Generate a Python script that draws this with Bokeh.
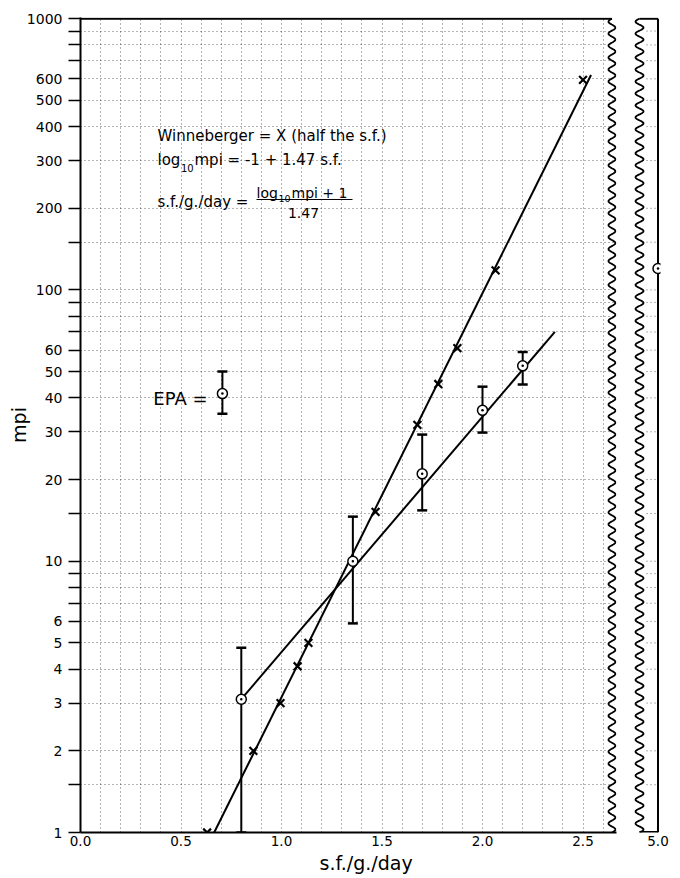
import numpy as np
from bokeh.plotting import figure
from bokeh.models import FixedTicker, Label, Title
from bokeh.layouts import row
from bokeh.embed import file_html
from bokeh.resources import INLINE

# ---------------- data ----------------
win_sf = [0.63, 0.86, 0.995, 1.08, 1.134, 1.468, 1.676, 1.78, 1.875, 2.065, 2.50]
win_mpi = [1.0, 2.0, 3.0, 4.1, 5.0, 15.2, 31.8, 45.0, 61.0, 118.0, 595.0]
win_fit_sf = [0.665, 2.54]
win_fit_mpi = [1.0, 620.0]

epa_sf = [0.80, 1.355, 1.70, 2.00, 2.20]
epa_mpi = [3.1, 10.0, 21.0, 36.0, 52.5]
epa_lo = [1.0, 5.9, 15.4, 29.8, 44.8]
epa_hi = [4.8, 14.6, 29.3, 44.0, 59.0]
epa_fit_sf = [0.80, 2.36]
epa_fit_mpi = [3.1, 70.0]

epa_ref_sf = [0.706]
epa_ref_mpi = [41.5]
epa_ref_lo = [35.0]
epa_ref_hi = [50.0]

strip_sf = [5.0]
strip_mpi = [120.0]

x_tick_vals = [0.0, 0.5, 1.0, 1.5, 2.0, 2.5]
x_tick_labels = ["0.0", "0.5", "1.0", "1.5", "2.0", "2.5"]
x_grid_vals = [0.1, 0.2, 0.3, 0.4, 0.5, 0.6, 0.7, 0.8, 0.9, 1.0, 1.1, 1.2, 1.3,
               1.4, 1.5, 1.6, 1.7, 1.8, 1.9, 2.0, 2.1, 2.2, 2.3, 2.4, 2.5, 2.6]
y_tick_vals = [1, 1.5, 2, 3, 4, 5, 6, 7, 8, 9, 10, 15, 20, 30, 40, 50, 60, 70, 80, 90,
               100, 150, 200, 300, 400, 500, 600, 700, 800, 900, 1000]
y_tick_labels = ["1", "", "2", "3", "4", "5", "6", "", "", "", "10", "", "20", "30", "40",
                 "50", "60", "", "", "", "100", "", "200", "300", "400", "500", "600",
                 "", "", "", "1000"]
strip_tick_vals = [5.0]
strip_tick_labels = ["5.0"]

# ---------------- helpers for annotation placement ----------------
PX0, PXU = 80.0, 201.0      # page x of s.f.=0, pixels per unit
PY0, PYD = 832.0, 271.27    # page y of mpi=1, pixels per decade


def dx(page_x):
    return (page_x - PX0) / PXU


def dy(page_y):
    return 10 ** ((PY0 - page_y) / PYD)


FONT = "DejaVu Sans"
GRID_DASH = "1 3"
H = 876
TOP = 17
BOTTOM = H - 832

# ---------------- main figure ----------------
x_end = dx(616)
p = figure(width=626, height=H, x_range=(0, x_end), y_range=(1, 1010),
           y_axis_type="log", output_backend="svg", toolbar_location=None,
           min_border_left=80, min_border_right=10, min_border_top=TOP,
           min_border_bottom=BOTTOM)
p.outline_line_color = None
p.background_fill_color = "white"
p.border_fill_color = "white"

p.xaxis.ticker = FixedTicker(ticks=x_tick_vals)
p.xaxis.major_label_overrides = dict(zip(x_tick_vals, x_tick_labels))
p.xaxis.major_tick_line_color = None
p.xaxis.minor_tick_line_color = None
p.xaxis.major_tick_out = 0
p.xaxis.major_label_standoff = 3
p.xaxis.axis_line_width = 2
p.xaxis.major_label_text_font = FONT
p.xaxis.major_label_text_font_size = "13.5px"
p.xaxis.major_label_text_color = "black"

p.yaxis.ticker = FixedTicker(ticks=y_tick_vals)
p.yaxis.major_label_overrides = dict(zip(y_tick_vals, y_tick_labels))
p.yaxis.minor_tick_line_color = None
p.yaxis.major_tick_out = 12
p.yaxis.major_tick_in = 0
p.yaxis.major_tick_line_width = 1.5
p.yaxis.major_label_standoff = 6
p.yaxis.axis_line_width = 2
p.yaxis.major_label_text_font = FONT
p.yaxis.major_label_text_font_size = "14px"
p.yaxis.major_label_text_color = "black"
p.yaxis.axis_label = "mpi"
p.yaxis.axis_label_text_font = FONT
p.yaxis.axis_label_text_font_size = "19px"
p.yaxis.axis_label_text_font_style = "normal"
p.yaxis.axis_label_text_color = "black"
p.yaxis.axis_label_standoff = -6

p.add_layout(Title(text="s.f./g./day", align="left", offset=239, standoff=2,
                   text_font=FONT, text_font_size="19px", text_font_style="normal",
                   text_color="black"), "below")

p.xgrid.ticker = FixedTicker(ticks=x_grid_vals)
p.ygrid.ticker = FixedTicker(ticks=y_tick_vals)
for g in (p.xgrid, p.ygrid):
    g.grid_line_color = "black"
    g.grid_line_alpha = 0.6
    g.grid_line_dash = GRID_DASH
    g.grid_line_width = 1

# wavy break edge of main panel
n_waves = 68
t = np.linspace(0, 3, 1400)
wy = 10 ** t
wx = 2.644 + 0.0174 * np.sin(2 * np.pi * t * n_waves / 3)
p.patch(x=[wx[0]] + list(wx) + [wx[-1], x_end + 0.1, x_end + 0.1],
        y=[0.9] + list(wy) + [1100, 1100, 0.9],
        fill_color="white", line_color=None)
p.line(wx, wy, line_color="black", line_width=1.8)
p.line([0, wx[-1]], [1000, 1000], line_color="black", line_width=2)

# fitted lines
p.line(win_fit_sf, win_fit_mpi, line_color="black", line_width=2)
p.line(epa_fit_sf, epa_fit_mpi, line_color="black", line_width=2)

# error bars
p.segment(x0=epa_sf, y0=epa_lo, x1=epa_sf, y1=epa_hi, line_color="black", line_width=2)
p.scatter(epa_sf, epa_hi, marker="dash", size=10, line_width=2.5, line_color="black")
p.scatter(epa_sf, epa_lo, marker="dash", size=10, line_width=2.5, line_color="black")
p.segment(x0=epa_ref_sf, y0=epa_ref_lo, x1=epa_ref_sf, y1=epa_ref_hi,
          line_color="black", line_width=2)
p.scatter(epa_ref_sf, epa_ref_hi, marker="dash", size=10, line_width=2.5, line_color="black")
p.scatter(epa_ref_sf, epa_ref_lo, marker="dash", size=10, line_width=2.5, line_color="black")

# markers
p.scatter(win_sf, win_mpi, marker="x", size=11, line_width=2.2, line_color="black")
p.scatter(epa_sf, epa_mpi, marker="circle_dot", size=10, line_width=1.5,
          line_color="black", fill_color="white")
p.scatter(epa_ref_sf, epa_ref_mpi, marker="circle_dot", size=10, line_width=1.5,
          line_color="black", fill_color="white")


# texts
def add_text(x, y, text, size, align="left", baseline="alphabetic", angle=0.0):
    p.add_layout(Label(x=x, y=y, text=text, text_font=FONT, text_font_size=size,
                       text_align=align, text_baseline=baseline, angle=angle,
                       text_color="black"))


add_text(dx(157), dy(136), "Winneberger = X (half the s.f.)", "15px")
add_text(dx(157), dy(160), "log", "15px")
add_text(dx(180.5), dy(168), "10", "10px")
add_text(dx(194), dy(160), "mpi = -1 + 1.47 s.f.", "15px")
add_text(dx(157), dy(202), "s.f./g./day =", "15px")
add_text(dx(256), dy(193), "log", "14px")
add_text(dx(278), dy(198), "10", "9.5px")
add_text(dx(291), dy(193), "mpi + 1", "14px")
add_text(dx(303), dy(213), "1.47", "14px", align="center")
p.line([dx(256), dx(352)], [dy(199), dy(199)], line_color="black", line_width=1)
add_text(dx(207), dy(398), "EPA =", "18px", align="right")

# ---------------- strip figure (s.f. = 5.0) ----------------
s_start = 5.0 - (657.5 - 630) / PXU
s_end = 5.0 + (660 - 657.5) / PXU
q = figure(width=46, height=H, x_range=(s_start, s_end), y_range=p.y_range,
           y_axis_type="log", y_axis_location=None, output_backend="svg",
           toolbar_location=None, min_border_left=4, min_border_right=12,
           min_border_top=TOP, min_border_bottom=BOTTOM)
q.outline_line_color = None
q.grid.visible = False
q.xaxis.ticker = FixedTicker(ticks=strip_tick_vals)
q.xaxis.major_label_overrides = dict(zip(strip_tick_vals, strip_tick_labels))
q.xaxis.axis_line_color = None
q.xaxis.major_tick_line_color = None
q.xaxis.minor_tick_line_color = None
q.xaxis.major_tick_out = 0
q.xaxis.major_label_standoff = 3
q.xaxis.major_label_text_font = FONT
q.xaxis.major_label_text_font_size = "13.5px"
q.xaxis.major_label_text_color = "black"

grid_inner = y_tick_vals[1:-1]
q.segment(x0=[4.943] * len(grid_inner), y0=grid_inner, x1=[5.0] * len(grid_inner),
          y1=grid_inner, line_color="black", line_alpha=0.6, line_dash=GRID_DASH,
          line_width=1)

sx = 4.908 + 0.02 * np.sin(2 * np.pi * t * n_waves / 3)
q.line(sx, wy, line_color="black", line_width=1.8)
q.line([sx[-1], 5.0], [1000, 1000], line_color="black", line_width=2)
q.line([sx[0], 5.0], [1, 1], line_color="black", line_width=3)
q.line([5.0, 5.0], [1, 1000], line_color="black", line_width=2)
q.scatter(strip_sf, strip_mpi, marker="circle_dot", size=10, line_width=1.5,
          line_color="black", fill_color="white")

layout = row(p, q)
open("out.html", "w").write(file_html(layout, INLINE))
